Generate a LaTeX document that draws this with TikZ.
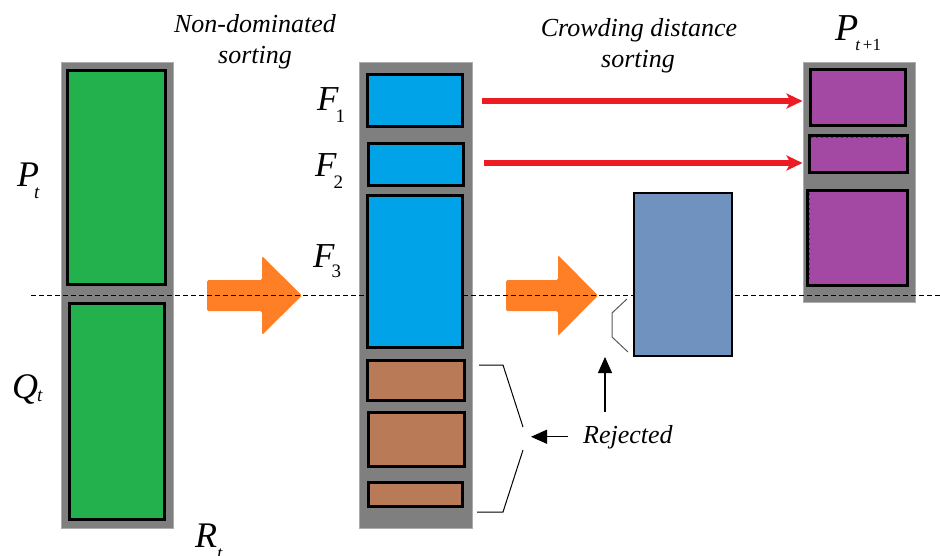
\documentclass[tikz,border=0pt]{standalone}
\usepackage{fontspec}
\setmainfont{Liberation Serif}
\usetikzlibrary{fit,arrows.meta}
\definecolor{colgray}{RGB}{127,127,127}
\definecolor{colgreen}{RGB}{34,177,76}
\definecolor{colblue}{RGB}{0,162,232}
\definecolor{colbrown}{RGB}{185,122,87}
\definecolor{colpurple}{RGB}{163,73,164}
\definecolor{colsteel}{RGB}{112,146,190}
\definecolor{colorange}{RGB}{255,127,39}
\definecolor{colred}{RGB}{237,28,36}
\newcommand{\mylbl}[6]{{\fontsize{#1}{#1}\selectfont\itshape #2}\kern#4\raisebox{#5}{\fontsize{#6}{#6}\selectfont\itshape #3}}
\begin{document}
\begin{tikzpicture}[x=1pt,y=-1pt,
  col/.style={fill=colgray, draw=gray!65, line width=1pt, inner sep=0pt},
  blk/.style={draw=black, line width=3pt, inner sep=0pt},
  ttl/.style={font=\fontsize{26}{31}\selectfont\itshape, inner sep=0pt, anchor=base},
  lbl/.style={inner sep=0pt, anchor=base west},
  redarr/.style={draw=colred, line width=6pt, -{Stealth[length=16pt,width=15pt,inset=4pt]}},
  ptr/.style={line width=1.1pt, -{Triangle[length=16pt,width=14pt]}},
  brk/.style={line width=1pt},
  orng/.style={fill=colorange, rounded corners=1.5pt},
  inner dash/.style={draw=colpurple!55!black, line width=1pt, dash pattern=on 2pt off 3pt}
  ]
\useasboundingbox (0,0) rectangle (940,555);

% gray columns
\node[col, fit={(61,62) (173,528)}] (lc) {};
\node[col, fit={(359,62) (472,528)}] (mc) {};
\node[col, fit={(803,62) (915,302)}] (rc) {};

% orange arrows
\fill[orng] (207,280) -- (262,280) -- (262,256) -- (302,295.5) -- (262,335) -- (262,311) -- (207,311) -- cycle;
\fill[orng] (506,280) -- (558,280) -- (558,255) -- (598,295.5) -- (558,336) -- (558,311) -- (506,311) -- cycle;

% dashed separating line
\draw[line width=0.8pt, dash pattern=on 5pt off 3pt] (31,295) -- (940,295);

% left column: P_t and Q_t
\node[blk, fill=colgreen, fit={(67.5,70.5) (165.5,284.5)}] (pbox) {};
\node[blk, fill=colgreen, fit={(69.5,303.5) (164.5,519.5)}] (qbox) {};

% middle column: fronts
\node[blk, fill=colblue, fit={(367.5,74.5) (462.5,126.5)}] (f1) {};
\node[blk, fill=colblue, fit={(368.5,143.5) (463.5,185.5)}] (f2) {};
\node[blk, fill=colblue, fit={(367.5,195.5) (462.5,347.5)}] (f3) {};
\node[blk, fill=colbrown, fit={(367.5,360.5) (464.5,400.5)}] (b1) {};
\node[blk, fill=colbrown, fit={(368.5,412.5) (464.5,466.5)}] (b2) {};
\node[blk, fill=colbrown, fit={(368.5,482.5) (462.5,506.5)}] (b3) {};

% F3 after crowding distance sorting
\node[draw=black, line width=2.5pt, inner sep=0pt, fill=colsteel, fit={(634.2,193.2) (731.8,355.8)}] (sb) {};

% right column: P_{t+1}
\node[blk, fill=colpurple, fit={(810.5,69.5) (905.5,125.5)}] (pp1) {};
\node[blk, fill=colpurple, fit={(809.5,135.5) (907.5,172.5)}] (pp2) {};
\node[blk, fill=colpurple, fit={(807.5,190.5) (907.5,285.5)}] (pp3) {};
\draw[inner dash] ([shift={(3,3.5)}]pp2.north west) -- ([shift={(-3,3.5)}]pp2.north east);
\draw[inner dash] ([shift={(3.5,4)}]pp3.north west) -- ([shift={(3.5,-8)}]pp3.south west);

% red arrows
\draw[redarr] ([xshift=18pt]f1.east |- 0,101) -- (rc.west |- 0,101);
\draw[redarr] ([xshift=19pt]f2.east |- 0,163) -- (rc.west |- 0,163);

% titles
\node[ttl] (nd1) at (255,32) {Non-dominated};
\node[ttl] (nd2) at (255,63) {sorting};
\node[ttl] (cd1) at (639,36) {Crowding distance};
\node[ttl] (cd2) at (638,67) {sorting};

% set labels
\node[lbl] (lp) at (17,186) {\mylbl{36}{P}{t}{-5pt}{-12pt}{19}};
\node[lbl] (lq) at (12,398) {\mylbl{36}{Q}{t}{-1pt}{-3pt}{19}};
\node[lbl] (lr) at (195,547) {\mylbl{36}{R}{t}{0pt}{-12pt}{19}};
\node[lbl] (lf1) at (317,110) {\mylbl{35}{F}{\upshape 1}{-3pt}{-12pt}{19}};
\node[lbl] (lf2) at (315,176) {\mylbl{35}{F}{\upshape 2}{-3pt}{-12pt}{19}};
\node[lbl] (lf3) at (313,267) {\mylbl{35}{F}{\upshape 3}{-3pt}{-10pt}{19}};
\node[lbl] (lpn) at (835,40) {\mylbl{38}{P}{t\,\upshape+1}{-3pt}{-10pt}{17}};

% rejected
\node[inner sep=0pt, anchor=base west, font=\fontsize{26}{31}\selectfont\itshape] (rej) at (583,443) {Rejected};
\coordinate (brkv) at (523,438.5);
\draw[brk] ([xshift=13pt]b1.east |- 0,365) -- (503,365) -- ([yshift=11.5pt]brkv);
\draw[brk] ([yshift=-11.5pt]brkv) -- (503,512) -- ([xshift=13pt]b3.east |- 0,512);
\draw[ptr] ([xshift=-15pt]rej.west) -- ([xshift=8pt]brkv |- rej.west);
\coordinate (upt) at (605,357);
\draw[ptr] ([yshift=13pt]rej.north -| upt) -- (upt);
\draw[brk, draw=black!65] ([shift={(-6,6)}]sb.west |- 0,293) -- (612,313) -- (612,337) -- (628,352);
\end{tikzpicture}
\end{document}
